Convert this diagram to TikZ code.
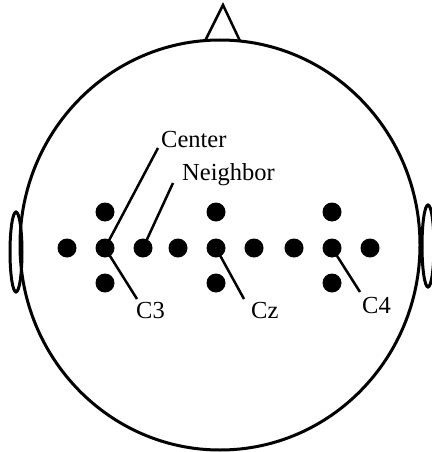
\documentclass[tikz,border=0pt]{standalone}
\usepackage{fontspec}
\setmainfont{Liberation Serif}
\usetikzlibrary{positioning}
\tikzset{
  electrode/.style={circle, fill=black, inner sep=0pt, minimum size=19pt},
  outline/.style={line width=3pt, black},
  pointer/.style={line width=2.5pt, black},
  elabel/.style={font=\fontsize{24.5}{28}\selectfont, inner sep=0pt, anchor=base west}
}
% Electrode cluster: centre plus four neighbours
\newcommand{\drawcluster}[3]{
  \node[electrode] (#3) at (#1, #2) {};
  \node[electrode] (#3_w) at (#1-38, #2) {};
  \node[electrode] (#3_e) at (#1+38, #2) {};
  \node[electrode] (#3_n) at (#1, #2-36) {};
  \node[electrode] (#3_s) at (#1, #2+35) {};
}

\begin{document}
\begin{tikzpicture}[x=1pt, y=-1pt]
\useasboundingbox (0,0) rectangle (431,452);

% Head, nose and ears
\draw[outline] (220,245) ellipse [x radius=200, y radius=205];
\draw[line width=2.5pt, line join=miter] (205,41) -- (223,5) -- (240,41);
\draw[outline] (16,252) ellipse [x radius=6, y radius=40];
\draw[outline] (428,246) ellipse [x radius=6, y radius=41];

% Electrodes
\drawcluster{105}{248}{cthree}
\drawcluster{216}{248}{cz}
\drawcluster{332}{248}{cfour}

% Labels
\coordinate (center_end) at (158,148);
\coordinate (neighbor_end) at (173,183);
\coordinate (cthree_end) at (137,299);
\coordinate (cz_end) at (244,299);
\coordinate (cfour_end) at (360,292);

\node[elabel] (center_lbl) at (161,147) {Center};
\node[elabel] (neighbor_lbl) at (182,180) {Neighbor};
\node[elabel] (cthree_lbl) at (136,318) {C3};
\node[elabel] (cz_lbl) at (251,318) {Cz};
\node[elabel] (cfour_lbl) at (362,313) {C4};

\draw[pointer] (cthree.center) -- (center_end);
\draw[pointer] (cthree_e.center) -- (neighbor_end);
\draw[pointer] (cthree.center) -- (cthree_end);
\draw[pointer] (cz.center) -- (cz_end);
\draw[pointer] (cfour.center) -- (cfour_end);

\end{tikzpicture}
\end{document}
